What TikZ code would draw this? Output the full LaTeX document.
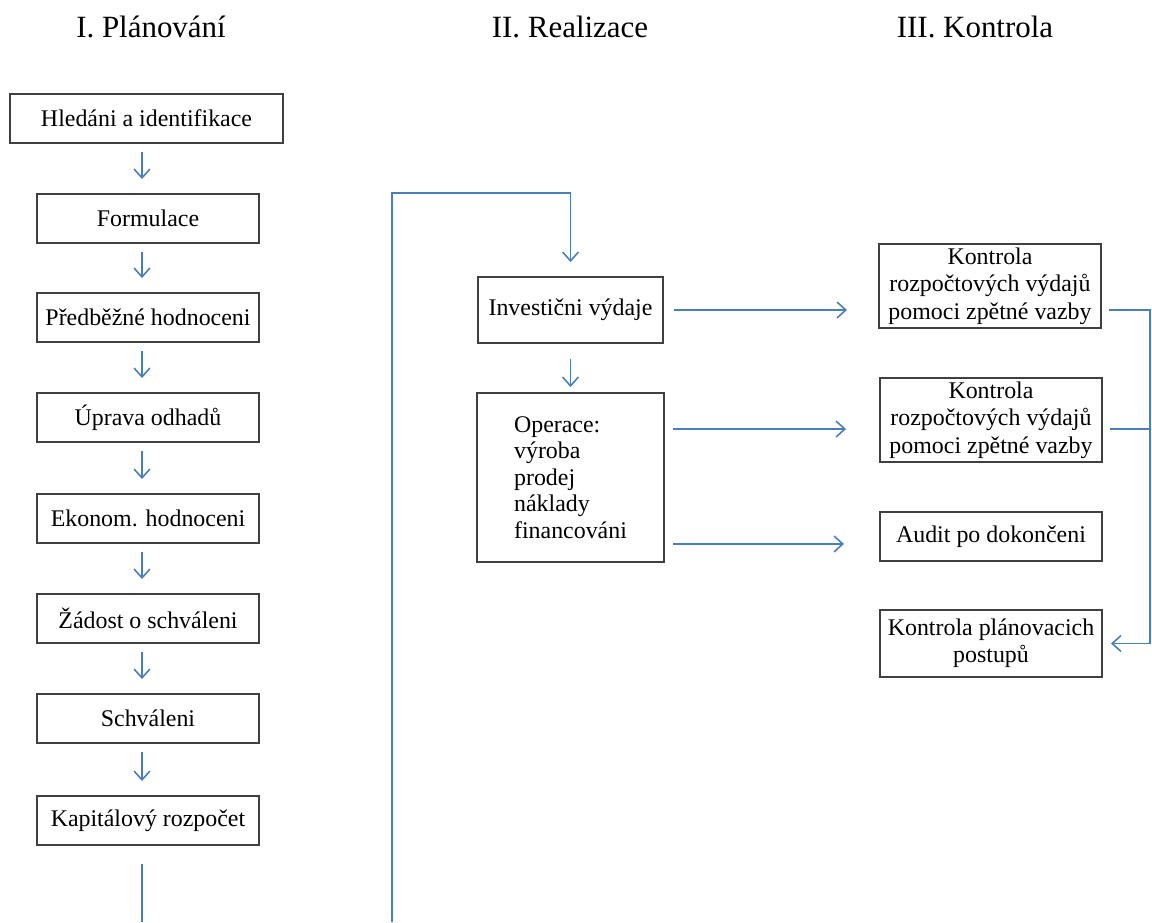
\documentclass[tikz,border=0pt]{standalone}
\usepackage{fontspec}
\setmainfont{Liberation Serif}
\usetikzlibrary{arrows.meta,calc}

\definecolor{lineblue}{RGB}{74,126,187}
\tikzset{
  box/.style={draw=black!75, line width=1.1pt, minimum width=4.44cm, minimum height=0.98cm,
    inner sep=2pt, align=center, font=\fontsize{13.6}{15.6}\selectfont},
  arr/.style={draw=lineblue, line width=0.9pt, -{Straight Barb[length=5pt,width=9pt]}},
  link/.style={draw=lineblue, line width=0.9pt},
  head/.style={font=\fontsize{17.6}{20}\selectfont, anchor=base}
}

\begin{document}
\begin{tikzpicture}
\useasboundingbox (0,0) rectangle (23.04,-18.44);

% headings
\node[head] (h1) at (3.02,-0.74) {I. Plánování};
\node[head] (h2) at (11.40,-0.74) {II. Realizace};
\node[head] (h3) at (19.50,-0.74) {III. Kontrola};

% planning
\node[box, minimum width=5.46cm] (b1) at (2.93,-2.37) {Hledáni a identifikace};
\node[box] (b2) at (2.96,-4.37) {Formulace};
\node[box] (b3) at (2.96,-6.35) {Předběžné hodnoceni};
\node[box] (b4) at (2.96,-8.35) {Úprava odhadů};
\node[box] (b5) at (2.96,-10.37) {Ekonom. hodnoceni};
\node[box] (b6) at (2.96,-12.37) {Žádost o schváleni};
\node[box] (b7) at (2.96,-14.37) {Schváleni};
\node[box] (b8) at (2.96,-16.41) {Kapitálový rozpočet};

\coordinate (ax) at (2.84,-18.44);
\draw[arr, shorten <=0.16cm, shorten >=0.28cm] (b1.south -| ax) -- (b2.north -| ax);
\draw[arr, shorten <=0.16cm, shorten >=0.28cm] (b2.south -| ax) -- (b3.north -| ax);
\draw[arr, shorten <=0.16cm, shorten >=0.28cm] (b3.south -| ax) -- (b4.north -| ax);
\draw[arr, shorten <=0.16cm, shorten >=0.28cm] (b4.south -| ax) -- (b5.north -| ax);
\draw[arr, shorten <=0.16cm, shorten >=0.28cm] (b5.south -| ax) -- (b6.north -| ax);
\draw[arr, shorten <=0.16cm, shorten >=0.28cm] (b6.south -| ax) -- (b7.north -| ax);
\draw[arr, shorten <=0.16cm, shorten >=0.28cm] (b7.south -| ax) -- (b8.north -| ax);
\draw[link, shorten <=0.36cm] (b8.south -| ax) -- (ax);

% realisation
\node[box, minimum width=3.70cm, minimum height=1.32cm] (inv) at (11.41,-6.20) {Investični výdaje};
\node[box, minimum width=3.74cm, minimum height=3.38cm, align=left,
  font=\fontsize{13.6}{15}\selectfont] (ops) at (11.41,-9.55)
  {Operace:\\výroba\\prodej\\náklady\\financováni};

\coordinate (lp) at (7.84,-18.44);
\coordinate (lt) at (7.84,-3.86);
\draw[arr, shorten >=0.28cm] (lp) -- (lt) -| (inv.north);
\draw[arr, shorten <=0.30cm, shorten >=0.10cm] (inv.south) -- (ops.north);

% control
\node[box, minimum height=1.68cm] (k1) at (19.80,-5.72) {Kontrola\\rozpočtových výdajů\\pomoci zpětné vazby};
\node[box, minimum height=1.68cm] (k2) at (19.82,-8.40) {Kontrola\\rozpočtových výdajů\\pomoci zpětné vazby};
\node[box] (aud) at (19.82,-10.73) {Audit po dokončeni};
\node[box, minimum height=1.34cm] (pla) at (19.82,-12.87) {Kontrola plánovacich\\postupů};

\coordinate (o1) at ($(ops.north east)+(0,-0.74)$);
\coordinate (o2) at ($(ops.south east)+(0,0.38)$);
\draw[arr, shorten <=0.20cm, shorten >=0.62cm] (inv.east) -- (inv.east -| k1.west);
\draw[arr, shorten <=0.16cm, shorten >=0.66cm] (o1) -- (o1 -| k2.west);
\draw[arr, shorten <=0.16cm, shorten >=0.70cm] (o2) -- (o2 -| aud.west);

\coordinate (rx) at (23.00,0);
\draw[arr, shorten <=0.14cm, shorten >=0.16cm] (k1.east |- inv.east) -- (rx |- inv.east)
  -- (rx |- pla.east) -- (pla.east);
\draw[link, shorten <=0.14cm] (k2.east |- o1) -- (rx |- o1);
\end{tikzpicture}
\end{document}
